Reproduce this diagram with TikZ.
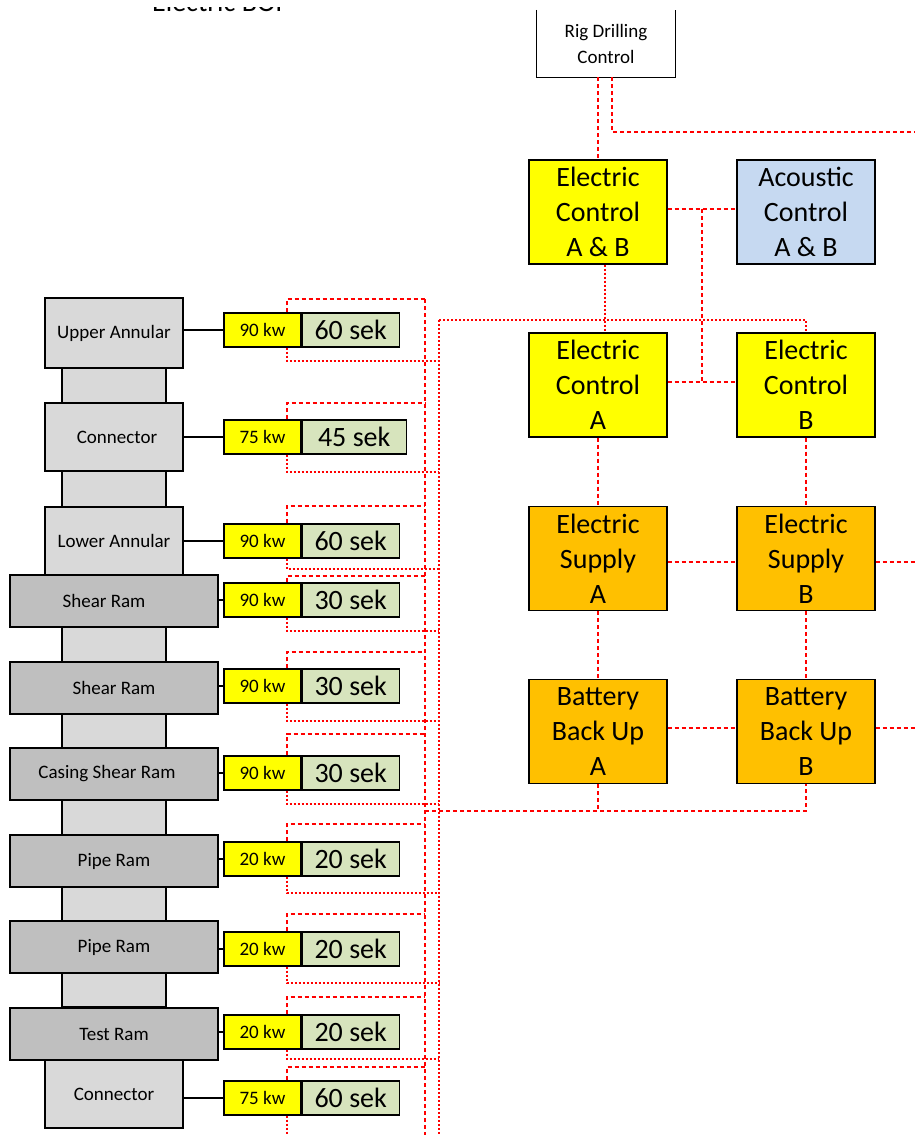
\documentclass[tikz,border=0pt]{standalone}
\usepackage{fontspec}
\setmainfont{Carlito}
\definecolor{ylw}{HTML}{FFFF00}
\definecolor{org}{HTML}{FFC000}
\definecolor{blu}{HTML}{C6D9F1}
\definecolor{grn}{HTML}{D7E4BD}
\definecolor{lgr}{HTML}{D9D9D9}
\definecolor{dgr}{HTML}{BFBFBF}
\definecolor{busred}{HTML}{FF0000}
\begin{document}
\begin{tikzpicture}[x=1pt,y=-1pt,
  box/.style={draw=black, line width=1.3pt, inner sep=0pt, align=center,
    minimum width=138pt, minimum height=104pt, font=\fontsize{28}{35}\selectfont},
  stk/.style={draw=black, line width=1.2pt, inner sep=0pt, font=\fontsize{19}{26}\selectfont},
  ram/.style={stk, fill=dgr, minimum width=208pt, minimum height=52pt},
  lbox/.style={stk, fill=lgr, minimum width=138pt, minimum height=68pt},
  pipebox/.style={stk, fill=lgr, minimum width=104pt},
  kwbox/.style={draw=black, line width=1.2pt, fill=ylw, minimum width=77pt, minimum height=34pt,
    inner sep=0pt, font=\fontsize{19}{22}\selectfont},
  sekbox/.style={draw=black, line width=1.2pt, fill=grn, minimum height=34pt,
    inner sep=0pt, font=\fontsize{28}{30}\selectfont},
  busA/.style={draw=busred, line width=2.2pt, dash pattern=on 4pt off 3pt},
  busB/.style={draw=busred, line width=1.3pt, dash pattern=on 2pt off 2pt},
  link/.style={draw=black, line width=1.2pt}
]
\useasboundingbox (0,0) rectangle (915,1135);
\clip (0,0) rectangle (915,1135);

% partially visible title
\begin{scope}
  \clip (0,7) rectangle (915,40);
  \node[anchor=base west, inner sep=0pt, font=\fontsize{28}{30}\selectfont] (title) at (152,11.5) {Electric BOP};
\end{scope}

% ---------- BOP stack ----------
\node[pipebox, minimum height=639pt] (pipe) at (114,687.5) {};
\node[lbox, minimum height=70pt] (ua) at (114,333) {Upper Annular};
\node[lbox] (con1) at (114,437) {\hspace*{6pt}Connector};
\node[lbox] (lan) at (114,541) {Lower Annular};
\node[ram] (sr1) at (114,601) {\hspace*{-20pt}Shear Ram};
\node[ram] (sr2) at (114,688) {Shear Ram};
\node[ram] (csr) at (114,774) {\hspace*{-14pt}Casing Shear Ram};
\node[ram] (pr1) at (114,861) {Pipe Ram};
\node[ram] (pr2) at (114,947) {Pipe Ram};
\node[ram] (tr) at (114,1034) {Test Ram};
\node[lbox] (con2) at (114,1094) {Connector};

% ---------- trunks ----------
\coordinate (tAtop) at (425,299);
\coordinate (tAbot) at (425,1135);
\coordinate (tBtop) at (439,320);
\coordinate (tBbot) at (439,1135);
\draw[busA] (tAtop) -- (tAbot);
\draw[busB] (tBtop) -- (tBbot);

% ---------- kw / sek boxes and loops ----------
\foreach \i/\yc/\kw/\sk/\w/\tp/\bt in {
  1/330/90/60/97/299/361,
  2/437/75/45/104/403/472,
  3/541/90/60/97/506/569,
  4/600/90/30/97/576/631,
  5/686/90/30/97/652/721,
  6/773/90/30/97/734/804,
  7/859/20/20/97/824/893,
  8/949/20/20/97/914/983,
  9/1032/20/20/97/997/1059,
  10/1098/75/60/97/1067/1140}{
  \node[kwbox] (k\i) at (262.5,\yc) {\kw{} kw};
  \node[sekbox, minimum width=\w pt, anchor=west] (s\i) at (k\i.east) {\sk{} sek};
  \draw[busA] ([xshift=24.5pt]k\i.north) |- (425,\tp);
  \draw[busB] ([xshift=24.5pt]k\i.south) |- (439,\bt);
}

% stack to kw links
\draw[link] (ua.east |- k1.west) -- (k1.west);
\draw[link] (con1.east |- k2.west) -- (k2.west);
\draw[link] (lan.east |- k3.west) -- (k3.west);
\draw[link] (sr1.east |- k4.west) -- (k4.west);
\draw[link] (sr2.east |- k5.west) -- (k5.west);
\draw[link] (csr.east |- k6.west) -- (k6.west);
\draw[link] (pr1.east |- k7.west) -- (k7.west);
\draw[link] (pr2.east |- k8.west) -- (k8.west);
\draw[link] (tr.east |- k9.west) -- (k9.west);
\draw[link] (con2.east |- k10.west) -- (k10.west);

% ---------- control side ----------
\node[inner sep=0pt, minimum width=138pt, minimum height=67pt, align=center,
  font=\fontsize{19}{26}\selectfont] (rdc) at (606,43.5) {Rig Drilling\\Control};
\draw[line width=1.3pt] (rdc.north west) |- (rdc.south east) -- (rdc.north east);

\node[box, fill=ylw] (ecab) at (598,212) {Electric\\Control\\A \& B};
\node[box, fill=blu] (ac) at (806,212) {Acoustic\\Control\\A \& B};
\node[box, fill=ylw] (eca) at (598,385) {Electric\\Control\\A};
\node[box, fill=ylw] (ecb) at (806,385) {Electric\\Control\\B};
\node[box, fill=org] (esa) at (598,558.5) {Electric\\Supply\\A};
\node[box, fill=org] (esb) at (806,558.5) {Electric\\Supply\\B};
\node[box, fill=org] (bba) at (598,731.5) {Battery\\Back Up\\A};
\node[box, fill=org] (bbb) at (806,731.5) {Battery\\Back Up\\B};

\coordinate (edgeR) at (915,132);
\coordinate (jAc) at (702,209);
\coordinate (jEc) at (702,382);
\coordinate (edgeES) at (915,562);
\coordinate (edgeBB) at (915,728);
\coordinate (jBB) at (425,811);

\draw[busA] (ecab.north |- rdc.south) -- (ecab.north);
\draw[busA] ([xshift=6pt]rdc.south) |- (edgeR);
\draw[busB] ([xshift=7pt]ecab.south) -- ([xshift=7pt]eca.north);
\draw[busA] (ecab.east |- jAc) -- (ac.west |- jAc);
\draw[busA] (jAc) -- (jEc);
\draw[busA] (eca.east |- jEc) -- (ecb.west |- jEc);
\draw[busB] (tBtop) -| (ecb.north);
\draw[busA] (eca.south) -- (esa.north);
\draw[busA] (ecb.south) -- (esb.north);
\draw[busA] (esa.east |- edgeES) -- (esb.west |- edgeES);
\draw[busA] (esb.east |- edgeES) -- (edgeES);
\draw[busA] (esa.south) -- (bba.north);
\draw[busA] (esb.south) -- (bbb.north);
\draw[busA] (bba.east |- edgeBB) -- (bbb.west |- edgeBB);
\draw[busA] (bbb.east |- edgeBB) -- (edgeBB);
\draw[busA] (bba.south) -- (bba.south |- jBB);
\draw[busA] (jBB) -| (bbb.south);
\end{tikzpicture}
\end{document}
